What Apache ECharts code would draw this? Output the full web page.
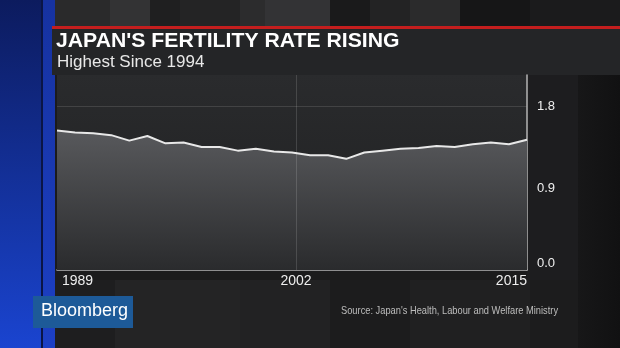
<!DOCTYPE html>
<html><head><meta charset="utf-8">
<script src="https://cdn.jsdelivr.net/npm/echarts@6/dist/echarts.min.js"></script>
<style>html,body{margin:0;padding:0;background:#1a1a1b;}#c{width:620px;height:348px;}</style>
</head><body><div id="c"></div>
<script>
var years = [1989,1990,1991,1992,1993,1994,1995,1996,1997,1998,1999,2000,2001,2002,2003,2004,2005,2006,2007,2008,2009,2010,2011,2012,2013,2014,2015];
var rates = [1.53,1.51,1.50,1.48,1.42,1.47,1.39,1.40,1.35,1.35,1.31,1.33,1.30,1.29,1.26,1.26,1.22,1.29,1.31,1.33,1.34,1.36,1.35,1.38,1.40,1.38,1.43];
var yTicks = [0, 0.9, 1.8];
var xTicks = [1989, 2002, 2015];
var title = "JAPAN'S FERTILITY RATE RISING";
var subtitle = "Highest Since 1994";
var source = "Source: Japan's Health, Labour and Welfare Ministry";
var brand = "Bloomberg";

var chart = echarts.init(document.getElementById('c'), null, {renderer:'canvas'});
var FONT = "'Liberation Sans', Arial, Helvetica, sans-serif";

function rect(x,y,w,h,fill,z){return {type:'rect',shape:{x:x,y:y,width:w,height:h},style:{fill:fill},z:z||-10,silent:true};}
function vgrad(a,b){return new echarts.graphic.LinearGradient(0,0,0,1,[{offset:0,color:a},{offset:1,color:b}]);}
function hgrad(a,b){return new echarts.graphic.LinearGradient(0,0,1,0,[{offset:0,color:a},{offset:1,color:b}]);}

var bg = [
  rect(0,0,620,348,'#1b1b1c',-20),
  rect(55,0,55,28,'#2a2a2b',-19), rect(110,0,40,28,'#333334',-19), rect(150,0,30,28,'#1f1f20',-19),
  rect(180,0,60,28,'#242425',-19), rect(240,0,25,28,'#2c2c2d',-19), rect(265,0,65,28,'#333335',-19),
  rect(330,0,40,28,'#1a1a1b',-19), rect(370,0,40,28,'#232324',-19), rect(410,0,50,28,'#2b2b2c',-19),
  rect(460,0,70,28,'#161617',-19), rect(530,0,90,28,'#1b1b1c',-19),
  rect(55,280,60,68,'#1e1e1f',-19), rect(115,280,125,68,'#242425',-19), rect(240,280,90,68,'#222223',-19),
  rect(330,280,80,68,'#1c1c1d',-19), rect(410,280,120,68,'#202021',-19), rect(530,280,50,68,'#1c1c1d',-19),
  rect(527,75,51,205,'#1d1d1f',-18), rect(578,28,42,320,hgrad('#171718','#111112'),-18),
  rect(0,0,41,348,vgrad('#0c1b5e','#1a44d0'),-15),
  rect(41,0,2,348,'#0a1546',-15),
  rect(43,0,12,348,vgrad('#1632a0','#1c3fc4'),-15),
  rect(52,26,568,3,'#c41e1e',-14),
  rect(52,29,568,46,'#242527',-14),
  rect(57,75,470,195,vgrad('#2a2b2d','#1f2021'),-14),
  {type:'text',x:56,y:31,scaleX:1.06,z:10,style:{text:title,fill:'#ffffff',font:"bold 20px "+FONT}},
  {type:'text',x:57,y:54,z:10,style:{text:subtitle,fill:'#e8e8e8',font:"17px "+FONT}},
  rect(33,296,100,32,'#1d5a98',5),
  {type:'text',x:41,y:302,z:10,style:{text:brand,fill:'#ffffff',font:"18px "+FONT}},
  {type:'text',x:341,y:305,scaleX:0.845,z:10,style:{text:source,fill:'#bdbdbd',font:"11px "+FONT}}
];

chart.setOption({
  animation:false,
  backgroundColor:'transparent',
  graphic: bg,
  grid:{left:57,right:93,top:75,bottom:78,containLabel:false},
  xAxis:{type:'value',min:1989,max:2015,interval:13,
    axisLine:{show:true,lineStyle:{color:'#b5b5b5',width:1.5}},
    axisTick:{show:false},
    axisLabel:{color:'#eeeeee',fontSize:14,fontFamily:FONT,margin:4,alignMinLabel:'left',alignMaxLabel:'right',
      formatter:function(v){
        if(v===xTicks[0])return '{l|'+v+'}';
        if(v===xTicks[1])return '{m|'+v+'}';
        if(v===xTicks[2])return '{r|'+v+'}';
        return '';},
      rich:{l:{fontSize:14,color:'#eeeeee',padding:[0,0,0,5]},m:{fontSize:14,color:'#eeeeee',padding:[0,0,0,8]},r:{fontSize:14,color:'#eeeeee'}}},
    splitLine:{show:false}
  },
  yAxis:{type:'value',position:'right',min:0,max:2.14,interval:0.9,
    axisLine:{show:true,lineStyle:{color:'#b5b5b5',width:1.5}},
    axisTick:{show:false},
    axisLabel:{color:'#eeeeee',fontSize:13,fontFamily:FONT,margin:10,showMaxLabel:false,verticalAlignMinLabel:'bottom',
      formatter:function(v){for(var i=0;i<yTicks.length;i++){if(Math.abs(yTicks[i]-v)<1e-6)return yTicks[i].toFixed(1);}return '';}},
    splitLine:{show:true,lineStyle:{color:['rgba(0,0,0,0)','rgba(255,255,255,0.12)','rgba(255,255,255,0.12)','rgba(0,0,0,0)'],width:1}}
  },
  series:[{type:'line',data:years.map(function(y,i){return [y,rates[i]];}),
    symbol:'none',lineStyle:{color:'#e8e8e8',width:2},
    areaStyle:{color:vgrad('#58595c','#2a2b2d'),opacity:1},
    markLine:{silent:true,symbol:'none',label:{show:false},animation:false,
      lineStyle:{color:'rgba(255,255,255,0.14)',type:'solid',width:1},
      data:[{xAxis:2002.22}]}
  }]
});
</script></body></html>
